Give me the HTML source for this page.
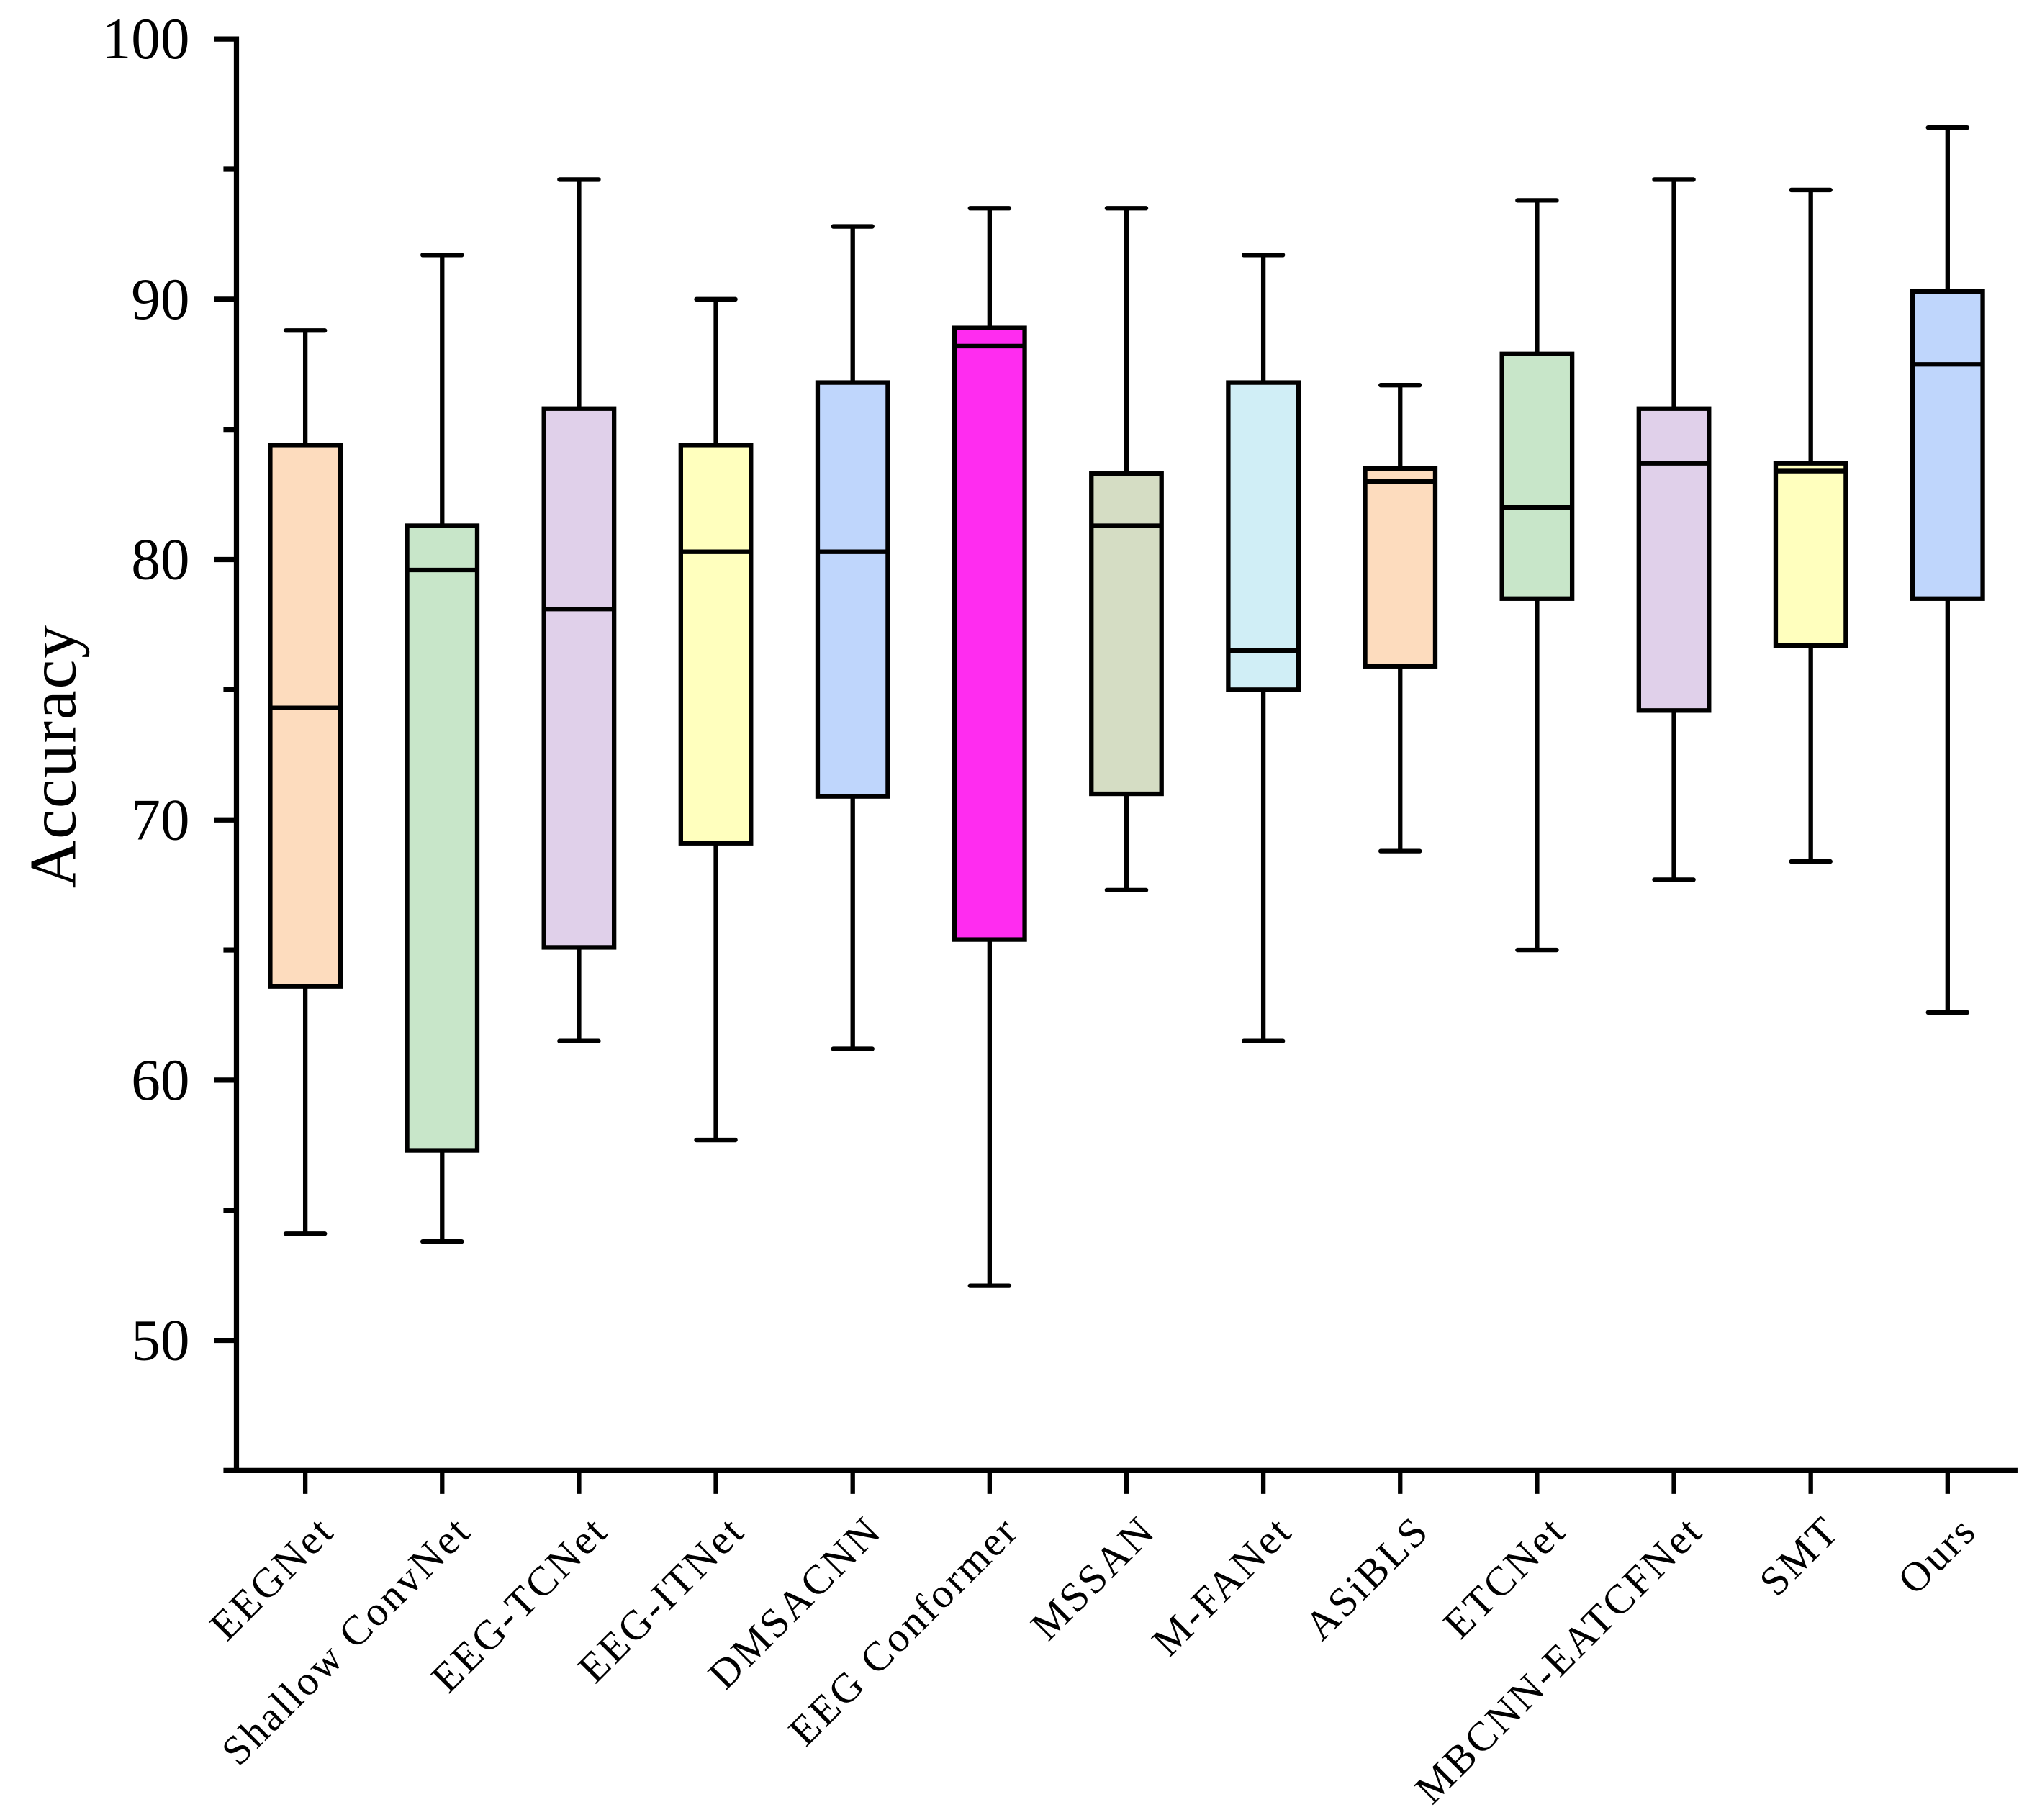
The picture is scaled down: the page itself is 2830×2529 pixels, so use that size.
<!DOCTYPE html>
<html><head><meta charset="utf-8"><style>html,body{margin:0;padding:0;background:#fff}svg{display:block}</style></head>
<body>
<svg id="chart" width="2830" height="2529" viewBox="0 0 1568 1401" preserveAspectRatio="none" xmlns="http://www.w3.org/2000/svg">
<rect width="1568" height="1401" fill="#fff"/>
<g id="axes"></g>
<g id="boxes"></g>
<text x="0" y="0" transform="translate(58,582) rotate(-90)" text-anchor="middle" font-family="Liberation Serif, serif" font-size="51" letter-spacing="1">Accuracy</text>
</svg>
<script>
const categories = ["EEGNet","Shallow ConvNet","EEG-TCNet","EEG-ITNet","DMSACNN","EEG Conformer","MSSAN","M-FANet","ASiBLS","ETCNet","MBCNN-EATCFNet","SMT","Ours"];
const maxVals = [88.8,91.7,94.6,90.0,92.8,93.5,93.5,91.7,86.7,93.8,94.6,94.2,96.6];
const q3Vals = [84.4,81.3,85.8,84.4,86.8,88.9,83.3,86.8,83.5,87.9,85.8,83.7,90.3];
const medVals = [74.3,79.6,78.1,80.3,80.3,88.2,81.3,76.5,83.0,82.0,83.7,83.4,87.5];
const q1Vals = [63.6,57.3,65.1,69.1,70.9,65.4,71.0,75.0,75.9,78.5,74.2,76.7,78.5];
const minVals = [54.1,53.8,61.5,57.7,61.2,52.1,67.3,61.5,68.8,65.0,67.7,68.4,62.6];
const colors = ["#FDDCBE","#C8E6C9","#E0D0EA","#FFFFBE","#BFD6FC","#FF2CF0","#D5DDC4","#D0EEF6","#FDDCBE","#C8E6C9","#E0D0EA","#FFFFBE","#BFD6FC"];
const yTicks = [50,60,70,80,90,100];
const yMinor = [55,65,75,85,95];

const NS="http://www.w3.org/2000/svg";
const X0=182, XEND=1553, YTOP=30, YBOT=1132, VMIN=45, VMAX=100;
function y(v){return YBOT-(v-VMIN)/(VMAX-VMIN)*(YBOT-YTOP);}
const step=105.35, firstX=235;
function x(i){return firstX+i*step;}
function mk(tag,attrs,parent){const e=document.createElementNS(NS,tag);for(const k in attrs)e.setAttribute(k,attrs[k]);parent.appendChild(e);return e;}
const axes=document.getElementById('axes'), boxes=document.getElementById('boxes');
let e;
e=mk('line',{x1:X0,y1:y(VMAX)-2,x2:X0,y2:YBOT+2,stroke:'#000','stroke-width':4},axes);


e=mk('line',{x1:X0-10,y1:YBOT,x2:XEND,y2:YBOT,stroke:'#000','stroke-width':4},axes);


yTicks.forEach(v=>{
  e=mk('line',{x1:X0-17,y1:y(v),x2:X0,y2:y(v),stroke:'#000','stroke-width':4},axes);
  
  
  e=mk('text',{x:X0-36,y:y(v)+15,'text-anchor':'end','font-family':'Liberation Serif, serif','font-size':45},axes);
  e.textContent=v;
  
  
});
yMinor.forEach(v=>{
  e=mk('line',{x1:X0-10,y1:y(v),x2:X0,y2:y(v),stroke:'#000','stroke-width':4},axes);
  
  
});
categories.forEach((c,i)=>{
  const cx=x(i);
  e=mk('line',{x1:cx,y1:YBOT,x2:cx,y2:YBOT+18,stroke:'#000','stroke-width':3.5},axes);
  
  
  e=mk('text',{x:0,y:0,'text-anchor':'end',transform:`translate(${cx+24},${1180}) rotate(-45)`,'font-family':'Liberation Serif, serif','font-size':32,'letter-spacing':1.8},axes);
  e.textContent=c;
  
  
  const g=mk('g',{},boxes);
  
  
  const w=54, cap=30;
  mk('line',{x1:cx,y1:y(maxVals[i]),x2:cx,y2:y(q3Vals[i]),stroke:'#000','stroke-width':3.5},g);
  mk('line',{x1:cx,y1:y(q1Vals[i]),x2:cx,y2:y(minVals[i]),stroke:'#000','stroke-width':3.5},g);
  mk('line',{x1:cx-cap/2,y1:y(maxVals[i]),x2:cx+cap/2,y2:y(maxVals[i]),stroke:'#000','stroke-width':3.5,'stroke-linecap':'round'},g);
  mk('line',{x1:cx-cap/2,y1:y(minVals[i]),x2:cx+cap/2,y2:y(minVals[i]),stroke:'#000','stroke-width':3.5,'stroke-linecap':'round'},g);
  mk('rect',{x:cx-w/2,y:y(q3Vals[i]),width:w,height:y(q1Vals[i])-y(q3Vals[i]),fill:colors[i],stroke:'#000','stroke-width':3.5},g);
  mk('line',{x1:cx-w/2,y1:y(medVals[i]),x2:cx+w/2,y2:y(medVals[i]),stroke:'#000','stroke-width':3.5},g);
});
</script>
</body></html>
